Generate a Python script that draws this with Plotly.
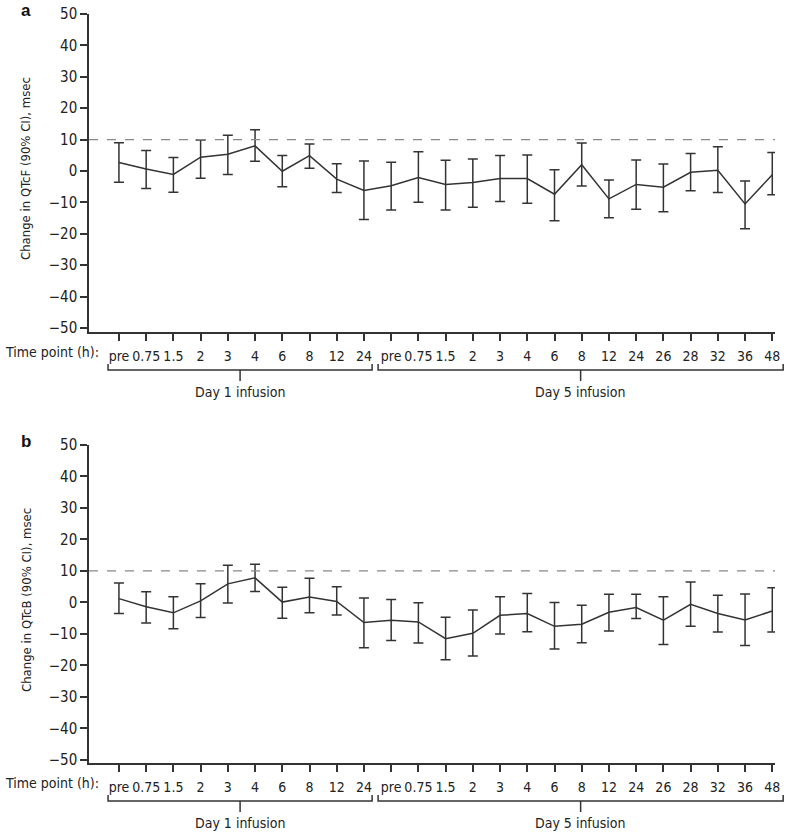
import plotly.graph_objects as go

# time points (Day 1 infusion then Day 5 infusion)
day1_times = ["pre", "0.75", "1.5", "2", "3", "4", "6", "8", "12", "24"]
day5_times = ["pre", "0.75", "1.5", "2", "3", "4", "6", "8", "12", "24", "26", "28", "32", "36", "48"]
tick_labels = day1_times + day5_times

# panel a: QTcF change, mean and 90% CI bounds
qtcf_mean = [2.7, 0.6, -1.1, 4.4, 5.3, 8.0, -0.1, 4.9, -2.6, -6.2,
             -4.7, -2.1, -4.3, -3.7, -2.4, -2.4, -7.4, 2.0, -8.9, -4.3, -5.2, -0.4, 0.2, -10.5, -1.2]
qtcf_upper = [9.0, 6.5, 4.3, 9.9, 11.4, 13.1, 4.9, 8.6, 2.3, 3.2,
              2.8, 6.1, 3.4, 3.8, 4.9, 5.1, 0.4, 8.9, -2.9, 3.5, 2.2, 5.6, 7.7, -3.2, 5.9]
qtcf_lower = [-3.6, -5.6, -6.8, -2.3, -1.1, 3.1, -5.0, 0.9, -6.9, -15.5,
              -12.4, -10.0, -12.4, -11.6, -9.7, -10.3, -15.9, -4.8, -14.9, -12.2, -13.0, -6.3, -6.9, -18.4, -7.6]

# panel b: QTcB change
qtcb_mean = [1.2, -1.4, -3.3, 0.5, 5.9, 7.8, 0.1, 1.7, 0.3, -6.4,
             -5.7, -6.2, -11.5, -9.8, -4.1, -3.5, -7.6, -6.9, -3.1, -1.6, -5.6, -0.6, -3.5, -5.6, -2.7]
qtcb_upper = [6.2, 3.4, 1.8, 5.9, 11.8, 12.1, 4.8, 7.7, 5.0, 1.4,
              0.9, -0.1, -4.7, -2.4, 1.8, 2.8, 0.0, -0.9, 2.6, 2.6, 1.8, 6.5, 2.3, 2.7, 4.7]
qtcb_lower = [-3.5, -6.5, -8.4, -4.8, -0.2, 3.5, -5.0, -3.3, -4.0, -14.4,
              -12.1, -12.9, -18.2, -17.0, -10.0, -9.3, -14.8, -12.8, -9.1, -5.1, -13.4, -7.6, -9.4, -13.7, -9.4]

threshold = 10
y_ticks = list(range(-50, 51, 10))

W, H = 787, 834
FONT = "DejaVu Sans Condensed, Liberation Sans Narrow, Roboto, Arial"
INK = "#333333"
X_RANGE = [-1.1, 24.1]
X_DOM = [89 / W, 775 / W]

fig = go.Figure()

panels = [
    dict(mean=qtcf_mean, up=qtcf_upper, lo=qtcf_lower, top=14, bottom=332,
         yr=[-51.3, 50], title="Change in QTcF (90% CI), msec", letter="a"),
    dict(mean=qtcb_mean, up=qtcb_upper, lo=qtcb_lower, top=445, bottom=763,
         yr=[-51, 50], title="Change in QTcB (90% CI), msec", letter="b"),
]

x_idx = list(range(len(tick_labels)))


def xpaper(v):
    return X_DOM[0] + (v - X_RANGE[0]) / (X_RANGE[1] - X_RANGE[0]) * (X_DOM[1] - X_DOM[0])


shapes, annotations = [], []
for i, p in enumerate(panels, start=1):
    xa = "x" if i == 1 else f"x{i}"
    ya = "y" if i == 1 else f"y{i}"
    fig.add_trace(go.Scatter(
        x=x_idx, y=p["mean"], mode="lines", xaxis=xa, yaxis=ya,
        line=dict(color=INK, width=1.5),
        error_y=dict(type="data", symmetric=False,
                     array=[u - m for u, m in zip(p["up"], p["mean"])],
                     arrayminus=[m - l for m, l in zip(p["mean"], p["lo"])],
                     color=INK, thickness=1.5, width=5),
        showlegend=False, hoverinfo="skip",
    ))
    dom = [1 - p["bottom"] / H, 1 - p["top"] / H]
    ax = dict(domain=X_DOM, range=X_RANGE, anchor=ya, tickmode="array",
              tickvals=x_idx, ticktext=tick_labels, tickangle=0, automargin=False,
              showline=True, linecolor=INK, ticklabelstandoff=3,
              linewidth=1.5, ticks="outside", ticklen=7, tickwidth=1.5, tickcolor=INK,
              showgrid=False, zeroline=False, tickfont=dict(size=14, color="#222"))
    ay = dict(domain=dom, range=p["yr"], anchor=xa, tickmode="array", automargin=False,
              tickvals=y_ticks, ticktext=[str(t).replace("-", "\u2212") for t in y_ticks],
              showline=True, linecolor=INK, linewidth=1.5, ticks="outside", ticklen=7,
              tickwidth=1.5, tickcolor=INK, showgrid=False, zeroline=False,
              tickfont=dict(size=15, color="#222"))
    fig.update_layout(**{("xaxis" if i == 1 else f"xaxis{i}"): ax,
                         ("yaxis" if i == 1 else f"yaxis{i}"): ay})

    # reference line at 10 msec
    shapes.append(dict(type="line", xref=xa, yref=ya, x0=X_RANGE[0], x1=X_RANGE[1],
                       y0=threshold, y1=threshold,
                       line=dict(color="#888888", width=1.2, dash="dash")))

    # brackets under the axis
    yb = 1 - (p["bottom"] + 38) / H
    ytick_up = 1 - (p["bottom"] + 32) / H
    ytick_dn = 1 - (p["bottom"] + 49) / H
    for a0, a1 in [(-0.4, 9.3), (9.52, 24.4)]:
        x0, x1 = xpaper(a0), xpaper(a1)
        xc = (x0 + x1) / 2
        shapes.append(dict(type="path", xref="paper", yref="paper",
                           path=f"M{x0},{ytick_up} L{x0},{yb} L{x1},{yb} L{x1},{ytick_up}",
                           line=dict(color=INK, width=1.5)))
        shapes.append(dict(type="line", xref="paper", yref="paper", x0=xc, x1=xc,
                           y0=yb, y1=ytick_dn, line=dict(color=INK, width=1.5)))
    for a0, a1, txt in [(-0.4, 9.3, "Day 1 infusion"), (9.52, 24.4, "Day 5 infusion")]:
        annotations.append(dict(x=(xpaper(a0) + xpaper(a1)) / 2, y=1 - (p["bottom"] + 60) / H,
                                xref="paper", yref="paper", text=txt, showarrow=False,
                                font=dict(size=14, color="#222"), xanchor="center", yanchor="middle"))

    annotations.append(dict(x=3 / W, y=1 - (p["bottom"] + 20) / H, xref="paper", yref="paper",
                            text="Time point (h):", showarrow=False, xanchor="left",
                            yanchor="middle", font=dict(size=14, color="#222")))
    annotations.append(dict(x=26 / W, y=1 - ((p["top"] + p["bottom"]) / 2 - 4) / H,
                            xref="paper", yref="paper", text=p["title"], textangle=-90,
                            showarrow=False, xanchor="center", yanchor="middle",
                            font=dict(size=13, color="#222")))
    annotations.append(dict(x=20 / W, y=1 - max(p["top"] - 14, 0) / H, xref="paper", yref="paper",
                            text=f"<b>{p['letter']}</b>", showarrow=False, xanchor="left",
                            yanchor="top", borderpad=0,
                            font=dict(size=17, color="#111", family="Liberation Sans, Arial")))

fig.update_layout(
    width=W, height=H, margin=dict(l=0, r=0, t=0, b=0),
    plot_bgcolor="white", paper_bgcolor="white",
    font=dict(family=FONT, color="#222"),
    shapes=shapes, annotations=annotations,
)

# drop the default page margin so the figure fills the 787x834 window
fig.write_html("out.html", config={"displayModeBar": False},
               post_script="document.body.style.margin='0';")
